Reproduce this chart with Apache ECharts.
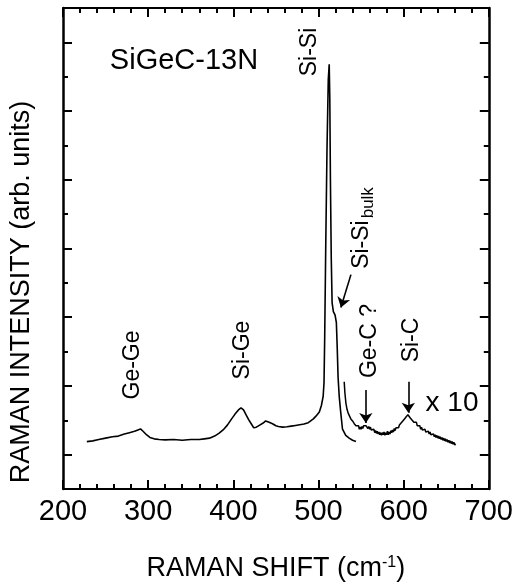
<!DOCTYPE html>
<html><head><meta charset="utf-8">
<script src="https://cdn.jsdelivr.net/npm/echarts@6/dist/echarts.min.js"></script>
<style>html,body{margin:0;padding:0;background:#fff}#c{width:516px;height:587px}</style>
</head><body><div id="c"></div>
<script>
// Raman shift (cm^-1), intensity (arb. units)
const mainSpectrum = [
[228,0.69],[235,0.70],[242,0.72],[250,0.74],[258,0.76],[265,0.77],[272,0.80],[278,0.82],[284,0.84],[288,0.86],[291,0.875],[294,0.84],[298,0.79],[302,0.75],[307,0.73],[313,0.72],[320,0.715],[330,0.72],[340,0.71],[350,0.72],[360,0.72],[366,0.73],[372,0.74],[378,0.77],[383,0.81],[388,0.86],[393,0.93],[398,1.02],[402,1.09],[406,1.15],[409,1.18],[412,1.15],[415,1.08],[418,1.01],[421,0.95],[424,0.89],[427,0.90],[431,0.93],[435,0.96],[438,0.99],[442,0.97],[446,0.95],[450,0.92],[453,0.91],[455,0.89],[458,0.90],[460,0.89],[463,0.905],[465,0.90],[468,0.915],[470,0.91],[473,0.925],[475,0.92],[478,0.935],[480,0.93],[483,0.945],[485,0.94],[488,0.965],[490,0.98],[494,1.02],[497,1.06],[501,1.12],[503.5,1.22],[505.5,1.35],[506.5,1.55],[507.3,2.21],[508.5,3.51],[510,4.95],[511.5,5.96],[512.6,6.18],[513.3,5.67],[514,4.52],[515,3.36],[516,2.71],[517.5,2.58],[519.5,2.53],[521,2.42],[522,2.06],[523,1.63],[524.4,1.34],[526,1.13],[528.2,0.87],[532,0.78],[536,0.74],[540,0.71],[544,0.69]
];
const magnifiedSpectrum = [
[530.2,1.56],[531,1.40],[532.2,1.25],[533.5,1.16],[535,1.10],[536.5,1.06],[538,1.02],[540,0.99],[541,1.00],[542,0.95],[543,0.96],[544,0.92],[545,0.94],[546,0.90],[547,0.92],[548,0.87],[549,0.90],[550,0.87],[551,0.91],[552,0.88],[553,0.92],[554,0.91],[555,0.94],[556,0.92],[557,0.93],[558,0.88],[559,0.91],[560,0.87],[561,0.90],[562,0.86],[563,0.88],[564,0.84],[565,0.87],[566,0.82],[567,0.85],[568,0.81],[569,0.84],[570,0.80],[571,0.83],[572,0.79],[573,0.82],[574,0.78],[575,0.82],[576,0.79],[577,0.83],[578,0.78],[579,0.82],[580,0.79],[581,0.84],[582,0.79],[583,0.83],[584,0.80],[585,0.85],[586,0.82],[587,0.86],[588,0.83],[589,0.88],[590,0.85],[591,0.89],[592,0.87],[593,0.91],[594,0.89],[595,0.93],[596,0.92],[597,0.96],[598,0.95],[599,0.99],[600,0.98],[601,1.02],[602,1.01],[603,1.05],[604,1.04],[605,1.08],[606,1.06],[607,1.07],[608,1.03],[609,1.05],[610,1.00],[611,1.02],[612,0.97],[613,0.99],[614,0.95],[615,0.97],[616,0.92],[617,0.94],[618,0.90],[619,0.92],[620,0.87],[621,0.90],[622,0.86],[623,0.88],[624,0.84],[625,0.87],[626,0.83],[627,0.85],[628,0.81],[629,0.84],[630,0.80],[631,0.83],[632,0.79],[633,0.81],[634,0.77],[635,0.80],[636,0.76],[637,0.79],[638,0.75],[639,0.78],[640,0.74],[641,0.77],[642,0.73],[643,0.76],[644,0.72],[645,0.75],[646,0.71],[647,0.74],[648,0.70],[649,0.73],[650,0.69],[651,0.72],[652,0.68],[653,0.71],[654,0.67],[655,0.70],[656,0.66],[657,0.69],[658,0.65],[659,0.68],[660,0.64],[661,0.66]
];
// arrows: [x1,y1,x2,y2] in data units
const arrows = [
  [538.1,3.12,526.3,2.64],
  [555.6,1.44,555.6,0.96],
  [605.5,1.56,605.5,1.11]
];
const xRange = {min:200, max:700, interval:100};
const yRange = {min:0, max:7, interval:1};

const FF = "'Liberation Sans', Arial, Helvetica, sans-serif";
const chart = echarts.init(document.getElementById('c'));
const tickStyle = {color:'#000', width:2};
function xAx(pos, showLabel){
  return {type:'value', position:pos, min:xRange.min, max:xRange.max, interval:xRange.interval,
    axisLine:{show:true, onZero:false, lineStyle:{color:'#000', width:2}},
    axisTick:{show:true, inside:true, length:9, lineStyle:tickStyle},
    minorTick:{show:true, splitNumber:5, length:5, lineStyle:tickStyle},
    splitLine:{show:false}, minorSplitLine:{show:false},
    axisLabel:{show:showLabel, color:'#000', fontSize:29, fontFamily:FF, margin:8},
    name: showLabel ? '{a|RAMAN SHIFT (cm}{s|-1}{a|)}' : '',
    nameLocation:'middle', nameGap:66,
    nameTextStyle:{rich:{a:{fontSize:27, fontFamily:FF, color:'#000'}, s:{fontSize:16, fontFamily:FF, color:'#000', verticalAlign:'top'}}}
  };
}
function yAx(pos){
  return {type:'value', position:pos, min:yRange.min, max:yRange.max, interval:yRange.interval,
    axisLine:{show:true, onZero:false, lineStyle:{color:'#000', width:2.5}},
    axisTick:{show:true, inside:true, length:5, lineStyle:tickStyle},
    minorTick:{show:true, splitNumber:2, length:9, lineStyle:tickStyle},
    splitLine:{show:false}, minorSplitLine:{show:false},
    axisLabel:{show:false}
  };
}
function vtext(x, y, text, size){
  return {type:'text', x:x, y:y, rotation:Math.PI/2, silent:true,
    style:{text:text, fontSize:size, fontFamily:FF, fill:'#000', align:'center', verticalAlign:'middle'}};
}
chart.setOption({
  animation:false,
  backgroundColor:'#fff',
  grid:{left:63, right:26, top:8, bottom:94, containLabel:false},
  xAxis:[xAx('bottom', true), xAx('top', false)],
  yAxis:[yAx('left'), yAx('right')],
  series:[
    {type:'line', data:mainSpectrum, showSymbol:false, smooth:false,
     lineStyle:{color:'#000', width:1.6}},
    {type:'line', data:magnifiedSpectrum, showSymbol:false,
     lineStyle:{color:'#000', width:1.5},
     markLine:{silent:true, symbol:['none','arrow'], symbolSize:10,
       lineStyle:{color:'#000', width:1.6, type:'solid'}, label:{show:false},
       data: arrows.map(a => [{coord:[a[0],a[1]]},{coord:[a[2],a[3]]}])}}
  ],
  graphic:[
    {type:'text', x:184, y:61, silent:true, style:{text:'SiGeC-13N', fontSize:29, fontFamily:FF, fill:'#000', align:'center', verticalAlign:'middle'}},
    vtext(310, 52, 'Si-Si', 23),
    vtext(133, 365, 'Ge-Ge', 23),
    vtext(243, 350, 'Si-Ge', 23),
    vtext(370, 341, 'Ge-C ?', 23),
    vtext(412, 340, 'Si-C', 23),
    {type:'text', x:362, y:228, rotation:Math.PI/2, silent:true,
     style:{text:'{a|Si-Si}{b|bulk}', align:'center', verticalAlign:'middle',
       rich:{a:{fontSize:23, fontFamily:FF, fill:'#000', color:'#000'}, b:{fontSize:17, fontFamily:FF, fill:'#000', color:'#000', verticalAlign:'bottom', padding:[12,0,0,2]}}}},
    {type:'text', x:452, y:403, silent:true, style:{text:'x 10', fontSize:28, fontFamily:FF, fill:'#000', align:'center', verticalAlign:'middle'}},
    {type:'text', x:22, y:292, rotation:Math.PI/2, silent:true, style:{text:'RAMAN INTENSITY (arb. units)', fontSize:27, fontFamily:FF, fill:'#000', align:'center', verticalAlign:'middle'}}
  ]
});
</script></body></html>
